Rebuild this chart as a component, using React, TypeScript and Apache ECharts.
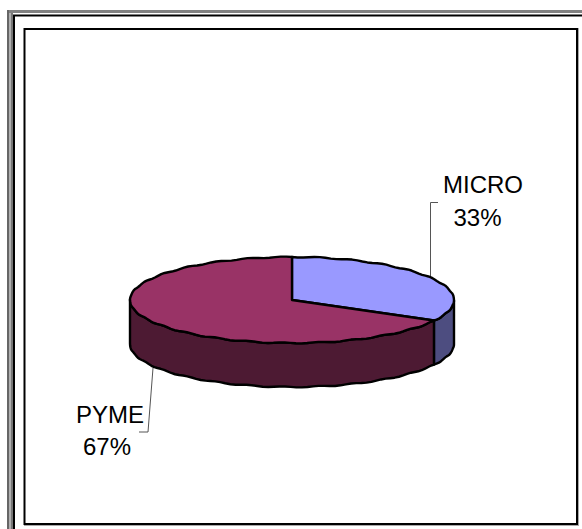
import React, { useEffect, useRef } from "react";
import * as echarts from "echarts";

const categories = ["MICRO", "PYME"];
const shares = [33, 67];
const topColors = ["#9999ff", "#993366"];
const sideColors = ["#4d4d80", "#4d1a33"];

const CX = 292;
const CY = 300;
const RX = 162;
const RY = 43;
const DEPTH = 44;
const STEP = Math.PI / 90;

const total = shares.reduce((a, b) => a + b, 0);

// Point on the pie's top ellipse; the angle runs clockwise from twelve o'clock.
// The faint ripple gives the rim its slightly uneven edge.
const rim = (t: number, dy = 0): number[] => [
  CX + RX * Math.sin(t),
  CY - RY * Math.cos(t) + dy + 0.5 * Math.sin(29 * t),
];

const arcPoints = (from: number, to: number, dy = 0): number[][] => {
  const pts: number[][] = [];
  const n = Math.max(1, Math.ceil(Math.abs(to - from) / STEP));
  for (let i = 0; i <= n; i++) pts.push(rim(from + ((to - from) * i) / n, dy));
  return pts;
};

const renderSlice = (params: any, api: any) => {
  const i = params.dataIndex;
  const before = shares.slice(0, i).reduce((a, b) => a + b, 0);
  const start = (before / total) * Math.PI * 2;
  const end = ((before + api.value(1)) / total) * Math.PI * 2;
  const outline = { stroke: "#000", lineWidth: 2.4, lineJoin: "round" };

  // The wall is visible only on the near half of the ellipse.
  const wallFrom = Math.max(start, Math.PI / 2);
  const wallTo = Math.min(end, (Math.PI * 3) / 2);
  const wallTop = arcPoints(wallFrom, wallTo);
  const wallBottom = arcPoints(wallTo, wallFrom, DEPTH);

  return {
    type: "group",
    children: [
      {
        type: "polygon",
        shape: { points: [...wallTop, ...wallBottom] },
        style: { fill: sideColors[i], ...outline },
      },
      {
        type: "polygon",
        shape: { points: [[CX, CY], ...arcPoints(start, end)] },
        style: { fill: topColors[i], ...outline },
      },
    ],
  };
};

const rule = (x1: number, y1: number, x2: number, y2: number, stroke: string, lineWidth: number) => ({
  type: "line",
  silent: true,
  shape: { x1, y1, x2, y2 },
  style: { stroke, lineWidth },
});

const caption = (text: string, x: number, y: number) => ({
  type: "text",
  silent: true,
  x,
  y,
  style: {
    text,
    align: "center",
    verticalAlign: "middle",
    fontFamily: "Liberation Sans",
    fontSize: 24,
    fill: "#000",
  },
});

export default function App() {
  const ref = useRef<HTMLDivElement>(null);

  useEffect(() => {
    const chart = echarts.init(ref.current!, undefined, { renderer: "svg" });
    chart.setOption({
      animation: false,
      backgroundColor: "#fff",
      series: [
        {
          type: "custom",
          coordinateSystem: "none",
          renderItem: renderSlice,
          data: categories.map((name, i) => ({ name, value: [i, shares[i]] })),
          silent: true,
        },
      ],
      graphic: [
        // Outer page border: runs off the right and bottom edges
        rule(7, 11.5, 582, 11.5, "#808080", 3),
        rule(13, 15.5, 582, 15.5, "#000", 2),
        rule(8, 10, 8, 529, "#666666", 2),
        rule(10, 13, 10, 529, "#b0b0b0", 2),
        rule(12, 13, 12, 529, "#777777", 2),
        rule(14, 15, 14, 529, "#000", 2),
        // Chart box
        rule(24.5, 29, 577, 29, "#000", 2),
        rule(24.5, 28, 24.5, 525, "#000", 2),
        rule(577, 28, 577, 525, "#000", 2),
        rule(24, 524, 578, 524, "#000", 2),
        rule(24, 525.5, 579, 525.5, "#a8a8a8", 1),
        rule(578.5, 28, 578.5, 526, "#a8a8a8", 1),
        // Leader lines
        {
          type: "polyline",
          silent: true,
          shape: { points: [[438, 202.5], [430.5, 202.5], [430.5, 278]] },
          style: { stroke: "#555", lineWidth: 1, fill: "none" },
        },
        {
          type: "polyline",
          silent: true,
          shape: { points: [[139, 432], [148, 432], [153, 368]] },
          style: { stroke: "#555", lineWidth: 1, fill: "none" },
        },
        caption(categories[0], 483, 184),
        caption(`${shares[0]}%`, 477.5, 217),
        caption(categories[1], 110, 414),
        caption(`${shares[1]}%`, 107, 446),
      ],
    });
    return () => chart.dispose();
  }, []);

  return (
    <div
      ref={ref}
      style={{ position: "fixed", left: 0, top: 0, width: 582, height: 529 }}
    />
  );
}
